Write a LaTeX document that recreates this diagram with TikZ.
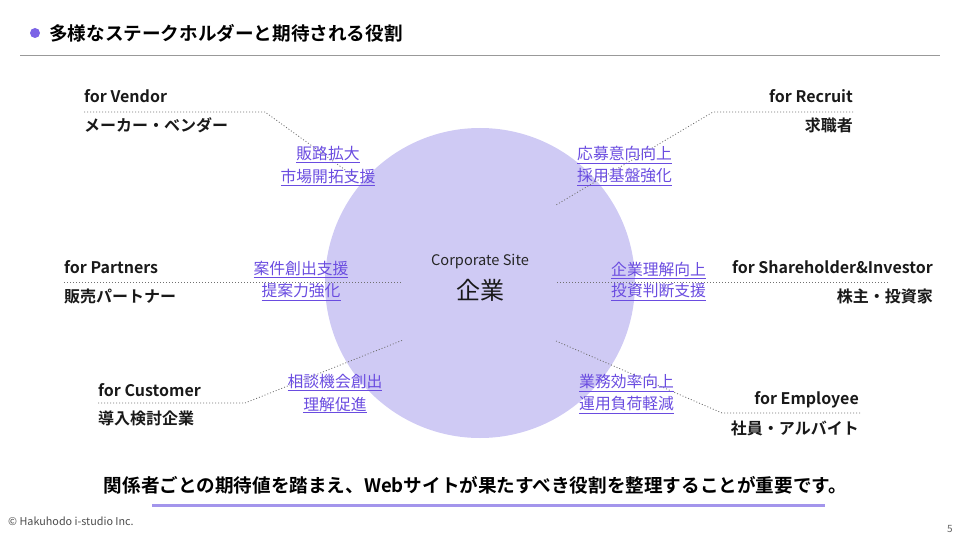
\documentclass[tikz,border=0pt]{standalone}
\usepackage{fontspec}
\setmainfont{Noto Sans CJK JP}[BoldFont={Noto Sans CJK JP Bold}]
\definecolor{circ}{HTML}{CFCAF4}
\definecolor{accent}{HTML}{7B63E6}
\definecolor{linkc}{HTML}{6A4CE0}
\definecolor{uline}{HTML}{A395EC}
\definecolor{dotc}{HTML}{707070}
\tikzset{
  head/.style={font=\bfseries\fontsize{16}{18}\selectfont, inner sep=0pt, text=black!90},
  role/.style={font=\fontsize{15.8}{18}\selectfont, inner sep=0pt, text=linkc},
  conn/.style={draw=dotc, line width=0.8pt, dash pattern=on 1pt off 2pt},
}
\newcommand{\rl}[1]{\underline{#1}}
\begin{document}
\begin{tikzpicture}[x=1pt,y=-1pt]
\useasboundingbox (0,0) rectangle (960,540);
% title
\fill[accent] (35,33) circle (5);
\node[anchor=west, inner sep=0pt, font=\bfseries\fontsize{18.6}{20}\selectfont] (title) at (49,33) {多様なステークホルダーと期待される役割};
\draw[gray!80, line width=0.8pt] (20,55) -- (940,55);
% circle
\fill[circ] (480,283) circle (155);
\node[inner sep=0pt, font=\fontsize{14.6}{16}\selectfont, text=black!85] (cs) at (480,262) {Corporate Site};
\node[inner sep=0pt, font=\fontsize{24}{26}\selectfont, text=black!90] (corp) at (480,290) {企業};
% Vendor
\node[head, anchor=west] (v1) at (84,96) {for Vendor};
\node[head, anchor=west] (v2) at (84,125) {メーカー・ベンダー};
\coordinate (va) at (84,112);
\coordinate (vb) at (265,112);
\coordinate (vc) at (355,177);
\draw[conn] (va) -- (vb) -- (vc);
\node[role] (vr1) at (328,155) {\rl{販路拡大}};
\node[role] (vr2) at (328,177) {\rl{市場開拓支援}};
% Recruit
\node[head, anchor=east] (r1) at (853,96) {for Recruit};
\node[head, anchor=east] (r2) at (853,125) {求職者};
\coordinate (ra) at (853,112);
\coordinate (rb) at (713,112);
\coordinate (rc) at (556,205);
\draw[conn] (ra) -- (rb) -- (rc);
\node[role, anchor=west] (rr1) at (577,155) {\rl{応募意向向上}};
\node[role, anchor=west] (rr2) at (577,177) {\rl{採用基盤強化}};
% Partners
\node[head, anchor=west] (p1) at (64,267) {for Partners};
\node[head, anchor=west] (p2) at (64,296) {販売パートナー};
\coordinate (pa) at (64,282);
\coordinate (pb) at (402,282);
\draw[conn] (pa) -- (pb);
\node[role] (pr1) at (301,270) {\rl{案件創出支援}};
\node[role] (pr2) at (301,292) {\rl{提案力強化}};
% Shareholder
\node[head, anchor=east] (s1) at (933,267) {for Shareholder\&Investor};
\node[head, anchor=east] (s2) at (933,296) {株主・投資家};
\coordinate (sa) at (557,282);
\coordinate (sb) at (888,282);
\draw[conn] (sa) -- (sb);
\node[role, anchor=west] (sr1) at (611,270) {\rl{企業理解向上}};
\node[role, anchor=west] (sr2) at (611,292) {\rl{投資判断支援}};
% Customer
\node[head, anchor=west] (c1) at (98,390) {for Customer};
\node[head, anchor=west] (c2) at (98,418) {導入検討企業};
\coordinate (ca) at (98,403);
\coordinate (cb) at (245,403);
\coordinate (cc) at (403,340);
\draw[conn] (ca) -- (cb) -- (cc);
\node[role] (cr1) at (335,383) {\rl{相談機会創出}};
\node[role] (cr2) at (335,405) {\rl{理解促進}};
% Employee
\node[head, anchor=east] (e1) at (859,400) {for Employee};
\node[head, anchor=east] (e2) at (859,428) {社員・アルバイト};
\coordinate (ea) at (860,413);
\coordinate (eb) at (722,413);
\coordinate (ec) at (556,341);
\draw[conn] (ea) -- (eb) -- (ec);
\node[role, anchor=west] (er1) at (579,383) {\rl{業務効率向上}};
\node[role, anchor=west] (er2) at (579,405) {\rl{運用負荷軽減}};
% bottom
\node[inner sep=0pt, font=\bfseries\fontsize{18.6}{20}\selectfont] (msg) at (475.5,485) {関係者ごとの期待値を踏まえ、Webサイトが果たすべき役割を整理することが重要です。};
\draw[uline, line width=3pt] (152,505) -- (825,505);
\node[anchor=west, inner sep=0pt, font=\fontsize{10.8}{12}\selectfont, text=black!70] (copy) at (8,521) {© Hakuhodo i-studio Inc.};
\node[inner sep=0pt, font=\fontsize{10}{12}\selectfont, text=black!60] (pg) at (950,529) {5};
\end{tikzpicture}
\end{document}
